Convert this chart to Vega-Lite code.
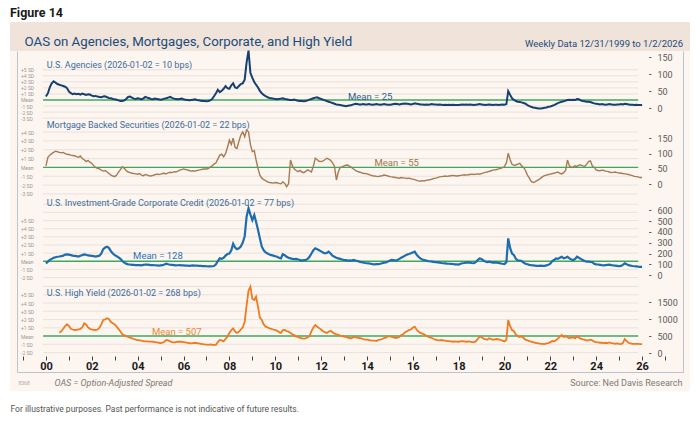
{
  "$schema": "https://vega.github.io/schema/vega-lite/v6.json",
  "background": "#ffffff",
  "padding": {"left": 10, "right": 9, "top": 6, "bottom": 0},
  "title": {"text": "Figure 14", "anchor": "start", "fontSize": 12.5, "fontWeight": "bold", "color": "#1a1a1a", "offset": 3, "frame": "bounds"},
  "config": {
    "font": "Roboto",
    "view": {"stroke": null},
    "text": {"font": "Roboto"},
    "axis": {"labelFont": "Roboto", "titleFont": "Roboto"},
    "title": {"font": "Roboto"}
  },
  "spacing": 0,
  "bounds": "flush",
  "datasets": {
    "panels": [
      {"p": "agy", "title": "U.S. Agencies (2026-01-02 = 10 bps)", "mean": 25, "meanLabel": "Mean = 25"},
      {"p": "mbs", "title": "Mortgage Backed Securities (2026-01-02 = 22 bps)", "mean": 55, "meanLabel": "Mean = 55"},
      {"p": "ig", "title": "U.S. Investment-Grade Corporate Credit (2026-01-02 = 77 bps)", "mean": 128, "meanLabel": "Mean = 128"},
      {"p": "hy", "title": "U.S. High Yield (2026-01-02 = 268 bps)", "mean": 507, "meanLabel": "Mean = 507"}
    ],
    "levels": [
      {"p": "agy", "k": -3, "level": -28.4}, {"p": "agy", "k": -2, "level": -10.6}, {"p": "agy", "k": -1, "level": 7.2},
      {"p": "agy", "k": 1, "level": 42.8}, {"p": "agy", "k": 2, "level": 60.6}, {"p": "agy", "k": 3, "level": 78.4},
      {"p": "agy", "k": 4, "level": 96.2}, {"p": "agy", "k": 5, "level": 114},
      {"p": "mbs", "k": -3, "level": -31.4}, {"p": "mbs", "k": -2, "level": -2.6}, {"p": "mbs", "k": -1, "level": 26.2},
      {"p": "mbs", "k": 1, "level": 83.8}, {"p": "mbs", "k": 2, "level": 112.6}, {"p": "mbs", "k": 3, "level": 141.4},
      {"p": "mbs", "k": 4, "level": 170.2},
      {"p": "ig", "k": -2, "level": -22.8}, {"p": "ig", "k": -1, "level": 52.6}, {"p": "ig", "k": 1, "level": 203.4},
      {"p": "ig", "k": 2, "level": 278.8}, {"p": "ig", "k": 3, "level": 354.2}, {"p": "ig", "k": 4, "level": 429.6},
      {"p": "ig", "k": 5, "level": 505}, {"p": "ig", "k": 6, "level": 580.4}, {"p": "ig", "k": 7, "level": 655.8},
      {"p": "hy", "k": -2, "level": 21}, {"p": "hy", "k": -1, "level": 264}, {"p": "hy", "k": 1, "level": 750},
      {"p": "hy", "k": 2, "level": 993}, {"p": "hy", "k": 3, "level": 1236}, {"p": "hy", "k": 4, "level": 1479},
      {"p": "hy", "k": 5, "level": 1722}, {"p": "hy", "k": 6, "level": 1965}
    ],
    "oas": [
      {"date": "1999-12-31", "agy": 35, "mbs": 60, "ig": 109, "hy": null},
      {"date": "2000-02-01", "agy": 45, "mbs": 88, "ig": 125, "hy": null},
      {"date": "2000-03-01", "agy": 62, "mbs": 95, "ig": 140, "hy": null},
      {"date": "2000-04-01", "agy": 74, "mbs": 100, "ig": 150, "hy": null},
      {"date": "2000-05-01", "agy": 80, "mbs": 104, "ig": 160, "hy": null},
      {"date": "2000-06-01", "agy": 76, "mbs": 108, "ig": 165, "hy": null},
      {"date": "2000-07-01", "agy": 72, "mbs": 106, "ig": 170, "hy": null},
      {"date": "2000-08-01", "agy": 70, "mbs": 104, "ig": 172, "hy": 606},
      {"date": "2000-09-01", "agy": 68, "mbs": 103, "ig": 175, "hy": 650},
      {"date": "2000-10-01", "agy": 66, "mbs": 104, "ig": 180, "hy": 720},
      {"date": "2000-11-01", "agy": 64, "mbs": 100, "ig": 190, "hy": 800},
      {"date": "2000-12-01", "agy": 60, "mbs": 98, "ig": 192, "hy": 852},
      {"date": "2001-01-01", "agy": 50, "mbs": 97, "ig": 190, "hy": 800},
      {"date": "2001-02-01", "agy": 45, "mbs": 95, "ig": 185, "hy": 720},
      {"date": "2001-03-01", "agy": 42, "mbs": 94, "ig": 180, "hy": 700},
      {"date": "2001-04-01", "agy": 44, "mbs": 93, "ig": 178, "hy": 685},
      {"date": "2001-05-01", "agy": 42, "mbs": 90, "ig": 175, "hy": 690},
      {"date": "2001-06-01", "agy": 43, "mbs": 88, "ig": 172, "hy": 700},
      {"date": "2001-07-01", "agy": 41, "mbs": 92, "ig": 180, "hy": 720},
      {"date": "2001-08-01", "agy": 44, "mbs": 84, "ig": 185, "hy": 760},
      {"date": "2001-09-01", "agy": 42, "mbs": 80, "ig": 192, "hy": 882},
      {"date": "2001-10-01", "agy": 40, "mbs": 74, "ig": 188, "hy": 850},
      {"date": "2001-11-01", "agy": 42, "mbs": 78, "ig": 182, "hy": 760},
      {"date": "2001-12-01", "agy": 41, "mbs": 72, "ig": 180, "hy": 720},
      {"date": "2002-01-01", "agy": 38, "mbs": 68, "ig": 178, "hy": 700},
      {"date": "2002-02-01", "agy": 36, "mbs": 60, "ig": 175, "hy": 690},
      {"date": "2002-03-01", "agy": 37, "mbs": 55, "ig": 172, "hy": 685},
      {"date": "2002-04-01", "agy": 35, "mbs": 52, "ig": 176, "hy": 700},
      {"date": "2002-05-01", "agy": 34, "mbs": 50, "ig": 180, "hy": 750},
      {"date": "2002-06-01", "agy": 33, "mbs": 46, "ig": 200, "hy": 850},
      {"date": "2002-07-01", "agy": 35, "mbs": 43, "ig": 240, "hy": 980},
      {"date": "2002-08-01", "agy": 36, "mbs": 45, "ig": 255, "hy": 1000},
      {"date": "2002-09-01", "agy": 33, "mbs": 40, "ig": 263, "hy": 1029},
      {"date": "2002-10-01", "agy": 31, "mbs": 35, "ig": 250, "hy": 1000},
      {"date": "2002-11-01", "agy": 30, "mbs": 30, "ig": 220, "hy": 920},
      {"date": "2002-12-01", "agy": 28, "mbs": 27, "ig": 200, "hy": 882},
      {"date": "2003-01-01", "agy": 27, "mbs": 25, "ig": 185, "hy": 850},
      {"date": "2003-02-01", "agy": 26, "mbs": 30, "ig": 175, "hy": 783},
      {"date": "2003-03-01", "agy": 24, "mbs": 40, "ig": 165, "hy": 720},
      {"date": "2003-04-01", "agy": 22, "mbs": 48, "ig": 150, "hy": 640},
      {"date": "2003-05-01", "agy": 22, "mbs": 57, "ig": 130, "hy": 560},
      {"date": "2003-06-01", "agy": 24, "mbs": 52, "ig": 115, "hy": 538},
      {"date": "2003-07-01", "agy": 28, "mbs": 45, "ig": 106, "hy": 500},
      {"date": "2003-08-01", "agy": 34, "mbs": 40, "ig": 100, "hy": 480},
      {"date": "2003-09-01", "agy": 35, "mbs": 38, "ig": 98, "hy": 460},
      {"date": "2003-10-01", "agy": 32, "mbs": 36, "ig": 95, "hy": 441},
      {"date": "2003-11-01", "agy": 29, "mbs": 35, "ig": 94, "hy": 420},
      {"date": "2003-12-01", "agy": 28, "mbs": 34, "ig": 93, "hy": 400},
      {"date": "2004-01-01", "agy": 30, "mbs": 33, "ig": 93, "hy": 390},
      {"date": "2004-02-01", "agy": 29, "mbs": 35, "ig": 92, "hy": 380},
      {"date": "2004-03-01", "agy": 27, "mbs": 30, "ig": 90, "hy": 370},
      {"date": "2004-04-01", "agy": 30, "mbs": 28, "ig": 95, "hy": 360},
      {"date": "2004-05-01", "agy": 34, "mbs": 32, "ig": 98, "hy": 350},
      {"date": "2004-06-01", "agy": 32, "mbs": 30, "ig": 97, "hy": 350},
      {"date": "2004-07-01", "agy": 30, "mbs": 28, "ig": 95, "hy": 345},
      {"date": "2004-08-01", "agy": 28, "mbs": 27, "ig": 93, "hy": 343},
      {"date": "2004-09-01", "agy": 27, "mbs": 29, "ig": 92, "hy": 340},
      {"date": "2004-10-01", "agy": 29, "mbs": 31, "ig": 91, "hy": 330},
      {"date": "2004-11-01", "agy": 28, "mbs": 33, "ig": 90, "hy": 320},
      {"date": "2004-12-01", "agy": 27, "mbs": 32, "ig": 88, "hy": 310},
      {"date": "2005-01-01", "agy": 26, "mbs": 33, "ig": 90, "hy": 300},
      {"date": "2005-02-01", "agy": 27, "mbs": 35, "ig": 92, "hy": 310},
      {"date": "2005-03-01", "agy": 29, "mbs": 36, "ig": 98, "hy": 340},
      {"date": "2005-04-01", "agy": 30, "mbs": 34, "ig": 105, "hy": 392},
      {"date": "2005-05-01", "agy": 32, "mbs": 37, "ig": 100, "hy": 380},
      {"date": "2005-06-01", "agy": 34, "mbs": 39, "ig": 96, "hy": 350},
      {"date": "2005-07-01", "agy": 31, "mbs": 38, "ig": 94, "hy": 330},
      {"date": "2005-08-01", "agy": 29, "mbs": 41, "ig": 92, "hy": 320},
      {"date": "2005-09-01", "agy": 28, "mbs": 40, "ig": 90, "hy": 330},
      {"date": "2005-10-01", "agy": 27, "mbs": 43, "ig": 91, "hy": 340},
      {"date": "2005-11-01", "agy": 28, "mbs": 46, "ig": 92, "hy": 345},
      {"date": "2005-12-01", "agy": 29, "mbs": 48, "ig": 90, "hy": 340},
      {"date": "2006-01-01", "agy": 27, "mbs": 50, "ig": 90, "hy": 330},
      {"date": "2006-02-01", "agy": 26, "mbs": 48, "ig": 88, "hy": 320},
      {"date": "2006-03-01", "agy": 25, "mbs": 47, "ig": 87, "hy": 310},
      {"date": "2006-04-01", "agy": 24, "mbs": 45, "ig": 86, "hy": 300},
      {"date": "2006-05-01", "agy": 25, "mbs": 43, "ig": 88, "hy": 290},
      {"date": "2006-06-01", "agy": 26, "mbs": 44, "ig": 90, "hy": 300},
      {"date": "2006-07-01", "agy": 27, "mbs": 43, "ig": 88, "hy": 310},
      {"date": "2006-08-01", "agy": 25, "mbs": 45, "ig": 87, "hy": 300},
      {"date": "2006-09-01", "agy": 24, "mbs": 46, "ig": 86, "hy": 290},
      {"date": "2006-10-01", "agy": 23, "mbs": 48, "ig": 85, "hy": 280},
      {"date": "2006-11-01", "agy": 22, "mbs": 49, "ig": 84, "hy": 270},
      {"date": "2006-12-01", "agy": 22, "mbs": 50, "ig": 83, "hy": 260},
      {"date": "2007-01-01", "agy": 21, "mbs": 50, "ig": 82, "hy": 255},
      {"date": "2007-02-01", "agy": 22, "mbs": 52, "ig": 81, "hy": 250},
      {"date": "2007-03-01", "agy": 24, "mbs": 56, "ig": 80, "hy": 260},
      {"date": "2007-04-01", "agy": 28, "mbs": 60, "ig": 82, "hy": 250},
      {"date": "2007-05-01", "agy": 36, "mbs": 66, "ig": 84, "hy": 245},
      {"date": "2007-06-01", "agy": 45, "mbs": 70, "ig": 100, "hy": 250},
      {"date": "2007-07-01", "agy": 55, "mbs": 82, "ig": 130, "hy": 330},
      {"date": "2007-08-01", "agy": 48, "mbs": 95, "ig": 155, "hy": 392},
      {"date": "2007-09-01", "agy": 52, "mbs": 98, "ig": 150, "hy": 380},
      {"date": "2007-10-01", "agy": 58, "mbs": 90, "ig": 160, "hy": 350},
      {"date": "2007-11-01", "agy": 66, "mbs": 100, "ig": 180, "hy": 420},
      {"date": "2007-12-01", "agy": 60, "mbs": 120, "ig": 195, "hy": 490},
      {"date": "2008-01-01", "agy": 58, "mbs": 144, "ig": 200, "hy": 600},
      {"date": "2008-02-01", "agy": 68, "mbs": 130, "ig": 230, "hy": 685},
      {"date": "2008-03-01", "agy": 74, "mbs": 150, "ig": 290, "hy": 735},
      {"date": "2008-04-01", "agy": 62, "mbs": 120, "ig": 255, "hy": 640},
      {"date": "2008-05-01", "agy": 60, "mbs": 117, "ig": 240, "hy": 600},
      {"date": "2008-06-01", "agy": 66, "mbs": 140, "ig": 248, "hy": 635},
      {"date": "2008-07-01", "agy": 72, "mbs": 160, "ig": 265, "hy": 700},
      {"date": "2008-08-01", "agy": 74, "mbs": 171, "ig": 300, "hy": 760},
      {"date": "2008-09-01", "agy": 85, "mbs": 155, "ig": 360, "hy": 930},
      {"date": "2008-10-01", "agy": 135, "mbs": 177, "ig": 540, "hy": 1400},
      {"date": "2008-11-01", "agy": 170, "mbs": 171, "ig": 618, "hy": 1850},
      {"date": "2008-12-01", "agy": 105, "mbs": 130, "ig": 560, "hy": 1960},
      {"date": "2009-01-01", "agy": 90, "mbs": 106, "ig": 510, "hy": 1600},
      {"date": "2009-02-01", "agy": 78, "mbs": 110, "ig": 556, "hy": 1568},
      {"date": "2009-03-01", "agy": 70, "mbs": 80, "ig": 494, "hy": 1666},
      {"date": "2009-04-01", "agy": 62, "mbs": 52, "ig": 420, "hy": 1371},
      {"date": "2009-05-01", "agy": 52, "mbs": 30, "ig": 340, "hy": 1050},
      {"date": "2009-06-01", "agy": 45, "mbs": 20, "ig": 263, "hy": 980},
      {"date": "2009-07-01", "agy": 40, "mbs": 15, "ig": 230, "hy": 850},
      {"date": "2009-08-01", "agy": 36, "mbs": 12, "ig": 210, "hy": 783},
      {"date": "2009-09-01", "agy": 33, "mbs": 8, "ig": 200, "hy": 760},
      {"date": "2009-10-01", "agy": 31, "mbs": 6, "ig": 190, "hy": 735},
      {"date": "2009-11-01", "agy": 30, "mbs": 5, "ig": 185, "hy": 720},
      {"date": "2009-12-01", "agy": 29, "mbs": 4, "ig": 180, "hy": 700},
      {"date": "2010-01-01", "agy": 28, "mbs": 6, "ig": 175, "hy": 685},
      {"date": "2010-02-01", "agy": 27, "mbs": 5, "ig": 170, "hy": 660},
      {"date": "2010-03-01", "agy": 28, "mbs": 3, "ig": 160, "hy": 620},
      {"date": "2010-04-01", "agy": 29, "mbs": 2, "ig": 155, "hy": 600},
      {"date": "2010-05-01", "agy": 30, "mbs": 8, "ig": 193, "hy": 685},
      {"date": "2010-06-01", "agy": 28, "mbs": 3, "ig": 185, "hy": 690},
      {"date": "2010-07-01", "agy": 27, "mbs": -8, "ig": 170, "hy": 650},
      {"date": "2010-08-01", "agy": 26, "mbs": 2, "ig": 160, "hy": 637},
      {"date": "2010-09-01", "agy": 25, "mbs": 79, "ig": 155, "hy": 600},
      {"date": "2010-10-01", "agy": 25, "mbs": 60, "ig": 150, "hy": 560},
      {"date": "2010-11-01", "agy": 26, "mbs": 50, "ig": 148, "hy": 538},
      {"date": "2010-12-01", "agy": 24, "mbs": 45, "ig": 150, "hy": 490},
      {"date": "2011-01-01", "agy": 23, "mbs": 41, "ig": 145, "hy": 480},
      {"date": "2011-02-01", "agy": 22, "mbs": 45, "ig": 140, "hy": 450},
      {"date": "2011-03-01", "agy": 22, "mbs": 40, "ig": 135, "hy": 441},
      {"date": "2011-04-01", "agy": 21, "mbs": 38, "ig": 138, "hy": 430},
      {"date": "2011-05-01", "agy": 22, "mbs": 42, "ig": 140, "hy": 440},
      {"date": "2011-06-01", "agy": 24, "mbs": 47, "ig": 150, "hy": 470},
      {"date": "2011-07-01", "agy": 26, "mbs": 44, "ig": 170, "hy": 500},
      {"date": "2011-08-01", "agy": 28, "mbs": 40, "ig": 200, "hy": 650},
      {"date": "2011-09-01", "agy": 30, "mbs": 60, "ig": 230, "hy": 760},
      {"date": "2011-10-01", "agy": 32, "mbs": 85, "ig": 248, "hy": 832},
      {"date": "2011-11-01", "agy": 33, "mbs": 80, "ig": 240, "hy": 780},
      {"date": "2011-12-01", "agy": 30, "mbs": 75, "ig": 230, "hy": 740},
      {"date": "2012-01-01", "agy": 28, "mbs": 74, "ig": 220, "hy": 700},
      {"date": "2012-02-01", "agy": 26, "mbs": 76, "ig": 210, "hy": 650},
      {"date": "2012-03-01", "agy": 24, "mbs": 80, "ig": 202, "hy": 620},
      {"date": "2012-04-01", "agy": 22, "mbs": 85, "ig": 205, "hy": 600},
      {"date": "2012-05-01", "agy": 20, "mbs": 82, "ig": 217, "hy": 635},
      {"date": "2012-06-01", "agy": 18, "mbs": 78, "ig": 200, "hy": 660},
      {"date": "2012-07-01", "agy": 16, "mbs": 70, "ig": 180, "hy": 620},
      {"date": "2012-08-01", "agy": 14, "mbs": 60, "ig": 170, "hy": 580},
      {"date": "2012-09-01", "agy": 12, "mbs": 14, "ig": 160, "hy": 560},
      {"date": "2012-10-01", "agy": 11, "mbs": 40, "ig": 155, "hy": 540},
      {"date": "2012-11-01", "agy": 10, "mbs": 55, "ig": 150, "hy": 520},
      {"date": "2012-12-01", "agy": 9, "mbs": 57, "ig": 145, "hy": 510},
      {"date": "2013-01-01", "agy": 8, "mbs": 60, "ig": 140, "hy": 490},
      {"date": "2013-02-01", "agy": 7, "mbs": 62, "ig": 138, "hy": 480},
      {"date": "2013-03-01", "agy": 8, "mbs": 63, "ig": 135, "hy": 460},
      {"date": "2013-04-01", "agy": 9, "mbs": 58, "ig": 137, "hy": 450},
      {"date": "2013-05-01", "agy": 10, "mbs": 55, "ig": 135, "hy": 441},
      {"date": "2013-06-01", "agy": 12, "mbs": 50, "ig": 140, "hy": 480},
      {"date": "2013-07-01", "agy": 14, "mbs": 45, "ig": 135, "hy": 470},
      {"date": "2013-08-01", "agy": 13, "mbs": 42, "ig": 130, "hy": 460},
      {"date": "2013-09-01", "agy": 12, "mbs": 40, "ig": 125, "hy": 450},
      {"date": "2013-10-01", "agy": 12, "mbs": 38, "ig": 120, "hy": 441},
      {"date": "2013-11-01", "agy": 13, "mbs": 36, "ig": 117, "hy": 420},
      {"date": "2013-12-01", "agy": 12, "mbs": 35, "ig": 112, "hy": 400},
      {"date": "2014-01-01", "agy": 12, "mbs": 34, "ig": 110, "hy": 400},
      {"date": "2014-02-01", "agy": 13, "mbs": 32, "ig": 108, "hy": 390},
      {"date": "2014-03-01", "agy": 12, "mbs": 30, "ig": 105, "hy": 380},
      {"date": "2014-04-01", "agy": 11, "mbs": 28, "ig": 102, "hy": 375},
      {"date": "2014-05-01", "agy": 12, "mbs": 27, "ig": 100, "hy": 370},
      {"date": "2014-06-01", "agy": 13, "mbs": 26, "ig": 101, "hy": 360},
      {"date": "2014-07-01", "agy": 12, "mbs": 25, "ig": 102, "hy": 392},
      {"date": "2014-08-01", "agy": 11, "mbs": 27, "ig": 105, "hy": 400},
      {"date": "2014-09-01", "agy": 12, "mbs": 28, "ig": 110, "hy": 420},
      {"date": "2014-10-01", "agy": 13, "mbs": 30, "ig": 115, "hy": 450},
      {"date": "2014-11-01", "agy": 12, "mbs": 29, "ig": 118, "hy": 460},
      {"date": "2014-12-01", "agy": 11, "mbs": 27, "ig": 125, "hy": 500},
      {"date": "2015-01-01", "agy": 11, "mbs": 25, "ig": 135, "hy": 500},
      {"date": "2015-02-01", "agy": 12, "mbs": 24, "ig": 140, "hy": 480},
      {"date": "2015-03-01", "agy": 13, "mbs": 23, "ig": 138, "hy": 470},
      {"date": "2015-04-01", "agy": 14, "mbs": 22, "ig": 135, "hy": 450},
      {"date": "2015-05-01", "agy": 13, "mbs": 21, "ig": 140, "hy": 460},
      {"date": "2015-06-01", "agy": 12, "mbs": 20, "ig": 150, "hy": 480},
      {"date": "2015-07-01", "agy": 13, "mbs": 22, "ig": 160, "hy": 539},
      {"date": "2015-08-01", "agy": 14, "mbs": 21, "ig": 170, "hy": 560},
      {"date": "2015-09-01", "agy": 15, "mbs": 20, "ig": 180, "hy": 620},
      {"date": "2015-10-01", "agy": 14, "mbs": 19, "ig": 190, "hy": 650},
      {"date": "2015-11-01", "agy": 13, "mbs": 20, "ig": 195, "hy": 685},
      {"date": "2015-12-01", "agy": 12, "mbs": 18, "ig": 202, "hy": 700},
      {"date": "2016-01-01", "agy": 13, "mbs": 17, "ig": 210, "hy": 750},
      {"date": "2016-02-01", "agy": 15, "mbs": 15, "ig": 217, "hy": 784},
      {"date": "2016-03-01", "agy": 14, "mbs": 13, "ig": 190, "hy": 700},
      {"date": "2016-04-01", "agy": 13, "mbs": 11, "ig": 170, "hy": 640},
      {"date": "2016-05-01", "agy": 12, "mbs": 10, "ig": 155, "hy": 600},
      {"date": "2016-06-01", "agy": 12, "mbs": 12, "ig": 145, "hy": 580},
      {"date": "2016-07-01", "agy": 11, "mbs": 11, "ig": 140, "hy": 560},
      {"date": "2016-08-01", "agy": 12, "mbs": 13, "ig": 135, "hy": 520},
      {"date": "2016-09-01", "agy": 11, "mbs": 14, "ig": 130, "hy": 490},
      {"date": "2016-10-01", "agy": 12, "mbs": 15, "ig": 128, "hy": 470},
      {"date": "2016-11-01", "agy": 13, "mbs": 17, "ig": 125, "hy": 450},
      {"date": "2016-12-01", "agy": 12, "mbs": 19, "ig": 122, "hy": 420},
      {"date": "2017-01-01", "agy": 12, "mbs": 20, "ig": 120, "hy": 400},
      {"date": "2017-02-01", "agy": 11, "mbs": 22, "ig": 118, "hy": 380},
      {"date": "2017-03-01", "agy": 12, "mbs": 24, "ig": 115, "hy": 380},
      {"date": "2017-04-01", "agy": 11, "mbs": 25, "ig": 112, "hy": 390},
      {"date": "2017-05-01", "agy": 10, "mbs": 26, "ig": 110, "hy": 380},
      {"date": "2017-06-01", "agy": 11, "mbs": 27, "ig": 108, "hy": 370},
      {"date": "2017-07-01", "agy": 10, "mbs": 26, "ig": 106, "hy": 360},
      {"date": "2017-08-01", "agy": 11, "mbs": 27, "ig": 105, "hy": 360},
      {"date": "2017-09-01", "agy": 10, "mbs": 28, "ig": 104, "hy": 350},
      {"date": "2017-10-01", "agy": 11, "mbs": 29, "ig": 103, "hy": 340},
      {"date": "2017-11-01", "agy": 10, "mbs": 28, "ig": 100, "hy": 350},
      {"date": "2017-12-01", "agy": 10, "mbs": 27, "ig": 100, "hy": 343},
      {"date": "2018-01-01", "agy": 10, "mbs": 28, "ig": 98, "hy": 340},
      {"date": "2018-02-01", "agy": 11, "mbs": 29, "ig": 105, "hy": 350},
      {"date": "2018-03-01", "agy": 12, "mbs": 30, "ig": 110, "hy": 360},
      {"date": "2018-04-01", "agy": 11, "mbs": 31, "ig": 112, "hy": 350},
      {"date": "2018-05-01", "agy": 12, "mbs": 30, "ig": 115, "hy": 340},
      {"date": "2018-06-01", "agy": 11, "mbs": 31, "ig": 118, "hy": 350},
      {"date": "2018-07-01", "agy": 12, "mbs": 32, "ig": 115, "hy": 340},
      {"date": "2018-08-01", "agy": 11, "mbs": 33, "ig": 112, "hy": 330},
      {"date": "2018-09-01", "agy": 10, "mbs": 32, "ig": 110, "hy": 330},
      {"date": "2018-10-01", "agy": 11, "mbs": 33, "ig": 120, "hy": 350},
      {"date": "2018-11-01", "agy": 12, "mbs": 34, "ig": 140, "hy": 420},
      {"date": "2018-12-01", "agy": 13, "mbs": 33, "ig": 155, "hy": 490},
      {"date": "2019-01-01", "agy": 12, "mbs": 35, "ig": 150, "hy": 480},
      {"date": "2019-02-01", "agy": 11, "mbs": 37, "ig": 135, "hy": 430},
      {"date": "2019-03-01", "agy": 10, "mbs": 39, "ig": 125, "hy": 420},
      {"date": "2019-04-01", "agy": 11, "mbs": 40, "ig": 120, "hy": 400},
      {"date": "2019-05-01", "agy": 12, "mbs": 42, "ig": 125, "hy": 440},
      {"date": "2019-06-01", "agy": 11, "mbs": 44, "ig": 120, "hy": 420},
      {"date": "2019-07-01", "agy": 10, "mbs": 46, "ig": 115, "hy": 400},
      {"date": "2019-08-01", "agy": 11, "mbs": 47, "ig": 118, "hy": 410},
      {"date": "2019-09-01", "agy": 11, "mbs": 48, "ig": 115, "hy": 420},
      {"date": "2019-10-01", "agy": 10, "mbs": 50, "ig": 112, "hy": 410},
      {"date": "2019-11-01", "agy": 11, "mbs": 52, "ig": 108, "hy": 392},
      {"date": "2019-12-01", "agy": 12, "mbs": 54, "ig": 105, "hy": 370},
      {"date": "2020-01-01", "agy": 11, "mbs": 58, "ig": 103, "hy": 350},
      {"date": "2020-02-01", "agy": 13, "mbs": 70, "ig": 120, "hy": 400},
      {"date": "2020-03-01", "agy": 51, "mbs": 101, "ig": 340, "hy": 980},
      {"date": "2020-04-01", "agy": 40, "mbs": 80, "ig": 250, "hy": 800},
      {"date": "2020-05-01", "agy": 30, "mbs": 65, "ig": 200, "hy": 685},
      {"date": "2020-06-01", "agy": 25, "mbs": 62, "ig": 185, "hy": 650},
      {"date": "2020-07-01", "agy": 22, "mbs": 63, "ig": 150, "hy": 550},
      {"date": "2020-08-01", "agy": 20, "mbs": 66, "ig": 135, "hy": 500},
      {"date": "2020-09-01", "agy": 19, "mbs": 68, "ig": 135, "hy": 480},
      {"date": "2020-10-01", "agy": 18, "mbs": 60, "ig": 130, "hy": 500},
      {"date": "2020-11-01", "agy": 16, "mbs": 55, "ig": 115, "hy": 450},
      {"date": "2020-12-01", "agy": 14, "mbs": 45, "ig": 105, "hy": 400},
      {"date": "2021-01-01", "agy": 10, "mbs": 30, "ig": 100, "hy": 380},
      {"date": "2021-02-01", "agy": 7, "mbs": 20, "ig": 95, "hy": 360},
      {"date": "2021-03-01", "agy": 5, "mbs": 10, "ig": 92, "hy": 343},
      {"date": "2021-04-01", "agy": 3, "mbs": 6, "ig": 90, "hy": 330},
      {"date": "2021-05-01", "agy": 2, "mbs": 8, "ig": 88, "hy": 310},
      {"date": "2021-06-01", "agy": 1, "mbs": 12, "ig": 86, "hy": 300},
      {"date": "2021-07-01", "agy": 0, "mbs": 15, "ig": 85, "hy": 290},
      {"date": "2021-08-01", "agy": 0, "mbs": 20, "ig": 87, "hy": 280},
      {"date": "2021-09-01", "agy": 1, "mbs": 25, "ig": 86, "hy": 280},
      {"date": "2021-10-01", "agy": 2, "mbs": 28, "ig": 85, "hy": 270},
      {"date": "2021-11-01", "agy": 3, "mbs": 30, "ig": 90, "hy": 290},
      {"date": "2021-12-01", "agy": 5, "mbs": 32, "ig": 95, "hy": 300},
      {"date": "2022-01-01", "agy": 6, "mbs": 33, "ig": 105, "hy": 330},
      {"date": "2022-02-01", "agy": 8, "mbs": 35, "ig": 130, "hy": 360},
      {"date": "2022-03-01", "agy": 10, "mbs": 36, "ig": 140, "hy": 350},
      {"date": "2022-04-01", "agy": 13, "mbs": 38, "ig": 155, "hy": 380},
      {"date": "2022-05-01", "agy": 16, "mbs": 40, "ig": 150, "hy": 430},
      {"date": "2022-06-01", "agy": 18, "mbs": 36, "ig": 160, "hy": 490},
      {"date": "2022-07-01", "agy": 20, "mbs": 34, "ig": 170, "hy": 539},
      {"date": "2022-08-01", "agy": 21, "mbs": 38, "ig": 155, "hy": 480},
      {"date": "2022-09-01", "agy": 23, "mbs": 45, "ig": 160, "hy": 500},
      {"date": "2022-10-01", "agy": 25, "mbs": 79, "ig": 170, "hy": 470},
      {"date": "2022-11-01", "agy": 26, "mbs": 60, "ig": 155, "hy": 441},
      {"date": "2022-12-01", "agy": 25, "mbs": 55, "ig": 145, "hy": 460},
      {"date": "2023-01-01", "agy": 26, "mbs": 57, "ig": 140, "hy": 470},
      {"date": "2023-02-01", "agy": 25, "mbs": 60, "ig": 150, "hy": 441},
      {"date": "2023-03-01", "agy": 28, "mbs": 58, "ig": 170, "hy": 500},
      {"date": "2023-04-01", "agy": 27, "mbs": 62, "ig": 160, "hy": 460},
      {"date": "2023-05-01", "agy": 24, "mbs": 63, "ig": 150, "hy": 430},
      {"date": "2023-06-01", "agy": 22, "mbs": 60, "ig": 140, "hy": 410},
      {"date": "2023-07-01", "agy": 21, "mbs": 58, "ig": 130, "hy": 400},
      {"date": "2023-08-01", "agy": 20, "mbs": 65, "ig": 124, "hy": 380},
      {"date": "2023-09-01", "agy": 20, "mbs": 74, "ig": 125, "hy": 380},
      {"date": "2023-10-01", "agy": 19, "mbs": 76, "ig": 122, "hy": 400},
      {"date": "2023-11-01", "agy": 17, "mbs": 60, "ig": 120, "hy": 380},
      {"date": "2023-12-01", "agy": 15, "mbs": 55, "ig": 105, "hy": 343},
      {"date": "2024-01-01", "agy": 14, "mbs": 47, "ig": 100, "hy": 330},
      {"date": "2024-02-01", "agy": 13, "mbs": 45, "ig": 98, "hy": 320},
      {"date": "2024-03-01", "agy": 12, "mbs": 44, "ig": 95, "hy": 310},
      {"date": "2024-04-01", "agy": 13, "mbs": 46, "ig": 92, "hy": 310},
      {"date": "2024-05-01", "agy": 12, "mbs": 45, "ig": 90, "hy": 300},
      {"date": "2024-06-01", "agy": 11, "mbs": 43, "ig": 93, "hy": 310},
      {"date": "2024-07-01", "agy": 12, "mbs": 42, "ig": 95, "hy": 300},
      {"date": "2024-08-01", "agy": 13, "mbs": 40, "ig": 97, "hy": 320},
      {"date": "2024-09-01", "agy": 12, "mbs": 38, "ig": 93, "hy": 300},
      {"date": "2024-10-01", "agy": 11, "mbs": 39, "ig": 90, "hy": 290},
      {"date": "2024-11-01", "agy": 11, "mbs": 40, "ig": 88, "hy": 280},
      {"date": "2024-12-01", "agy": 12, "mbs": 38, "ig": 85, "hy": 294},
      {"date": "2025-01-01", "agy": 12, "mbs": 37, "ig": 82, "hy": 280},
      {"date": "2025-02-01", "agy": 13, "mbs": 36, "ig": 85, "hy": 270},
      {"date": "2025-03-01", "agy": 12, "mbs": 35, "ig": 95, "hy": 300},
      {"date": "2025-04-01", "agy": 14, "mbs": 34, "ig": 109, "hy": 420},
      {"date": "2025-05-01", "agy": 13, "mbs": 33, "ig": 100, "hy": 360},
      {"date": "2025-06-01", "agy": 12, "mbs": 32, "ig": 92, "hy": 310},
      {"date": "2025-07-01", "agy": 11, "mbs": 30, "ig": 88, "hy": 290},
      {"date": "2025-08-01", "agy": 11, "mbs": 28, "ig": 84, "hy": 280},
      {"date": "2025-09-01", "agy": 10, "mbs": 26, "ig": 82, "hy": 275},
      {"date": "2025-10-01", "agy": 11, "mbs": 25, "ig": 80, "hy": 280},
      {"date": "2025-11-01", "agy": 10, "mbs": 24, "ig": 78, "hy": 275},
      {"date": "2025-12-01", "agy": 10, "mbs": 22, "ig": 77, "hy": 270},
      {"date": "2026-01-02", "agy": 10, "mbs": 22, "ig": 77, "hy": 268}
    ]
  },
  "vconcat": [
    {
      "width": 680,
      "height": 29,
      "view": {"fill": "#efe3da", "stroke": null},
      "title": {"text": "OAS on Agencies, Mortgages, Corporate, and High Yield", "orient": "bottom", "anchor": "start", "frame": "group", "offset": -5, "baseline": "alphabetic", "dx": 14.5, "fontSize": 13.3, "fontWeight": "normal", "color": "#1b4b7a"},
      "data": {"values": [{}]},
      "mark": {"type": "point", "opacity": 0}
    },
    {
      "width": 680,
      "height": 340,
      "view": {"fill": "#fcf5f0", "stroke": null},
      "title": {"text": "Weekly Data 12/31/1999 to 1/2/2026", "orient": "top", "anchor": "end", "frame": "group", "offset": -10, "baseline": "alphabetic", "dx": -7, "fontSize": 9.5, "fontWeight": "normal", "color": "#1b4b7a"},
      "resolve": {"scale": {"y": "independent"}, "axis": {"x": "independent", "y": "independent"}},
      "layer": [
        {
          "resolve": {"axis": {"x": "independent", "y": "independent"}},
          "layer": [
            {
              "data": {"name": "levels"},
              "transform": [{"filter": "datum.p == 'agy'"}],
              "mark": {"type": "rule", "color": "#e6ddd6", "strokeWidth": 0.8},
              "encoding": {
                "x": {"datum": {"year": 1999, "month": 11, "date": 15}, "type": "temporal", "scale": {"domain": [{"year": 1998, "month": 9, "date": 26}, {"year": 2027, "month": 10, "date": 16}], "range": [7, 673]}, "axis": null},
                "x2": {"datum": {"year": 2025, "month": 11, "date": 1}},
                "y": {"field": "level", "type": "quantitative", "scale": {"domain": [-775, 169.1], "range": [321, 0], "nice": false, "zero": false},
                  "axis": {"orient": "left", "offset": -7, "values": [-28.4, -10.6, 7.2, 25, 42.8, 60.6, 78.4, 96.2, 114], "labelExpr": "datum.value == 25 ? 'Mean' : (datum.value > 25 ? '+' : '-') + round(abs(datum.value - 25) / 17.8) + ' SD'", "domain": true, "domainColor": "#b9c4ce", "domainWidth": 1, "ticks": false, "tickSize": 0, "grid": false, "labelAlign": "left", "labelBaseline": "middle", "labelPadding": -3.5, "labelFontSize": 5, "labelColor": "#9a9a9a", "labelOverlap": false, "labelFlush": false, "title": null}}
              }
            },
            {
              "data": {"name": "panels"},
              "transform": [{"filter": "datum.p == 'agy'"}],
              "mark": {"type": "rule", "color": "#3ea85f", "strokeWidth": 1.4},
              "encoding": {
                "x": {"datum": {"year": 1999, "month": 11, "date": 15}, "type": "temporal", "axis": null},
                "x2": {"datum": {"year": 2025, "month": 11, "date": 1}},
                "y": {"field": "mean", "type": "quantitative", "axis": {"orient": "right", "offset": -7, "domain": true, "domainColor": "#b9c4ce", "domainWidth": 1, "ticks": false, "labels": false, "grid": false, "title": null}}
              }
            },
            {
              "data": {"name": "oas"},
              "mark": {"type": "line", "color": "#173f70", "strokeWidth": 2},
              "encoding": {
                "x": {"field": "date", "type": "temporal",
                  "axis": {"orient": "bottom", "offset": -35, "domain": false, "tickCount": {"interval": "year", "step": 1}, "tickSize": 4, "tickColor": "#444444", "tickWidth": 1, "labelExpr": "year(datum.value) % 2 == 0 ? timeFormat(datum.value, '%y') : ''", "labelFontSize": 11, "labelFontWeight": "bold", "labelColor": "#1a1a1a", "labelPadding": 0, "labelFlush": false, "labelOverlap": false, "grid": false,
                    "title": "For illustrative purposes. Past performance is not indicative of future results.", "titleAnchor": "start", "titleAlign": "left", "titleX": 0, "titleY": 55, "titleBaseline": "alphabetic", "titleFontSize": 8.5, "titleFontWeight": "normal", "titleColor": "#555555"}},
                "y": {"field": "agy", "type": "quantitative",
                  "axis": {"orient": "right", "offset": -41.5, "values": [0, 50, 100, 150], "format": "d", "domain": false, "ticks": true, "tickSize": 2.5, "tickColor": "#666666", "tickWidth": 1, "labelPadding": 6, "labelFontSize": 9, "labelColor": "#5a5a5a", "labelAlign": "left", "labelBaseline": "middle", "labelOverlap": false, "labelFlush": false, "grid": false, "title": null}}
              }
            },
            {
              "data": {"name": "panels"},
              "transform": [{"filter": "datum.p == 'agy'"}],
              "mark": {"type": "text", "align": "left", "baseline": "middle", "fontSize": 9, "color": "#3d6c9a"},
              "encoding": {
                "x": {"datum": {"year": 2000, "month": 1, "date": 12}, "type": "temporal", "axis": null},
                "y": {"datum": 128, "type": "quantitative", "axis": null},
                "text": {"field": "title", "type": "nominal"}
              }
            },
            {
              "data": {"name": "panels"},
              "transform": [{"filter": "datum.p == 'agy'"}],
              "mark": {"type": "text", "align": "left", "baseline": "middle", "fontSize": 9.5, "color": "#2d5f93"},
              "encoding": {
                "x": {"datum": {"year": 2013, "month": 3, "date": 5}, "type": "temporal", "axis": null},
                "y": {"datum": 34.7, "type": "quantitative", "axis": null},
                "text": {"field": "meanLabel", "type": "nominal"}
              }
            }
          ]
        },
        {
          "resolve": {"axis": {"x": "independent", "y": "independent"}},
          "layer": [
            {
              "data": {"name": "levels"},
              "transform": [{"filter": "datum.p == 'mbs'"}],
              "mark": {"type": "rule", "color": "#e6ddd6", "strokeWidth": 0.8},
              "encoding": {
                "x": {"datum": {"year": 1999, "month": 11, "date": 15}, "type": "temporal", "axis": null},
                "x2": {"datum": {"year": 2025, "month": 11, "date": 1}},
                "y": {"field": "level", "type": "quantitative", "scale": {"domain": [-611.4, 434.2], "range": [321, 0], "nice": false, "zero": false},
                  "axis": {"orient": "left", "offset": -7, "values": [-31.4, -2.6, 26.2, 55, 83.8, 112.6, 141.4, 170.2], "labelExpr": "datum.value == 55 ? 'Mean' : (datum.value > 55 ? '+' : '-') + round(abs(datum.value - 55) / 28.8) + ' SD'", "domain": false, "ticks": false, "tickSize": 0, "grid": false, "labelAlign": "left", "labelBaseline": "middle", "labelPadding": -3.5, "labelFontSize": 5, "labelColor": "#9a9a9a", "labelOverlap": false, "labelFlush": false, "title": null}}
              }
            },
            {
              "data": {"name": "panels"},
              "transform": [{"filter": "datum.p == 'mbs'"}],
              "mark": {"type": "rule", "color": "#3ea85f", "strokeWidth": 1.4},
              "encoding": {
                "x": {"datum": {"year": 1999, "month": 11, "date": 15}, "type": "temporal", "axis": null},
                "x2": {"datum": {"year": 2025, "month": 11, "date": 1}},
                "y": {"field": "mean", "type": "quantitative", "axis": null}
              }
            },
            {
              "data": {"name": "oas"},
              "mark": {"type": "line", "color": "#a67b52", "strokeWidth": 1.4},
              "encoding": {
                "x": {"field": "date", "type": "temporal",
                  "axis": {"orient": "bottom", "offset": -19, "domain": true, "domainColor": "#b9c4ce", "domainWidth": 1, "ticks": false, "labels": false, "grid": false,
                    "title": "OAS = Option-Adjusted Spread", "titleAnchor": "start", "titleAlign": "left", "titleX": 44, "titleY": 13, "titleBaseline": "alphabetic", "titleFontSize": 9, "titleFontStyle": "italic", "titleFontWeight": "normal", "titleColor": "#7a7a7a"}},
                "y": {"field": "mbs", "type": "quantitative",
                  "axis": {"orient": "right", "offset": -41.5, "values": [0, 50, 100, 150], "format": "d", "domain": false, "ticks": true, "tickSize": 2.5, "tickColor": "#666666", "tickWidth": 1, "labelPadding": 6, "labelFontSize": 9, "labelColor": "#5a5a5a", "labelAlign": "left", "labelBaseline": "middle", "labelOverlap": false, "labelFlush": false, "grid": false, "title": null}}
              }
            },
            {
              "data": {"name": "panels"},
              "transform": [{"filter": "datum.p == 'mbs'"}],
              "mark": {"type": "text", "align": "left", "baseline": "middle", "fontSize": 9, "color": "#3d6c9a"},
              "encoding": {
                "x": {"datum": {"year": 2000, "month": 1, "date": 12}, "type": "temporal", "axis": null},
                "y": {"datum": 193.2, "type": "quantitative", "axis": null},
                "text": {"field": "title", "type": "nominal"}
              }
            },
            {
              "data": {"name": "panels"},
              "transform": [{"filter": "datum.p == 'mbs'"}],
              "mark": {"type": "text", "align": "left", "baseline": "middle", "fontSize": 9.5, "color": "#a4734a"},
              "encoding": {
                "x": {"datum": {"year": 2014, "month": 5, "date": 1}, "type": "temporal", "axis": null},
                "y": {"datum": 68.4, "type": "quantitative", "axis": null},
                "text": {"field": "meanLabel", "type": "nominal"}
              }
            }
          ]
        },
        {
          "resolve": {"axis": {"x": "independent", "y": "independent"}},
          "layer": [
            {
              "data": {"name": "levels"},
              "transform": [{"filter": "datum.p == 'ig'"}],
              "mark": {"type": "rule", "color": "#e6ddd6", "strokeWidth": 0.8},
              "encoding": {
                "x": {"datum": {"year": 1999, "month": 11, "date": 15}, "type": "temporal", "axis": null},
                "x2": {"datum": {"year": 2025, "month": 11, "date": 1}},
                "y": {"field": "level", "type": "quantitative", "scale": {"domain": [-897.2, 2075], "range": [321, 0], "nice": false, "zero": false},
                  "axis": {"orient": "left", "offset": -7, "values": [-22.8, 52.6, 128, 203.4, 278.8, 354.2, 429.6, 505], "labelExpr": "datum.value == 128 ? 'Mean' : (datum.value > 128 ? '+' : '-') + round(abs(datum.value - 128) / 75.4) + ' SD'", "domain": false, "ticks": false, "tickSize": 0, "grid": false, "labelAlign": "left", "labelBaseline": "middle", "labelPadding": -3.5, "labelFontSize": 5, "labelColor": "#9a9a9a", "labelOverlap": false, "labelFlush": false, "title": null}}
              }
            },
            {
              "data": {"name": "panels"},
              "transform": [{"filter": "datum.p == 'ig'"}],
              "mark": {"type": "rule", "color": "#3ea85f", "strokeWidth": 1.4},
              "encoding": {
                "x": {"datum": {"year": 1999, "month": 11, "date": 15}, "type": "temporal", "axis": null},
                "x2": {"datum": {"year": 2025, "month": 11, "date": 1}},
                "y": {"field": "mean", "type": "quantitative", "axis": null}
              }
            },
            {
              "data": {"name": "oas"},
              "mark": {"type": "line", "color": "#1b6db0", "strokeWidth": 2.2},
              "encoding": {
                "x": {"field": "date", "type": "temporal",
                  "axis": {"orient": "bottom", "offset": -19, "domain": false, "ticks": false, "labels": false, "grid": false,
                    "title": "Source: Ned Davis Research", "titleAnchor": "end", "titleAlign": "right", "titleX": 672, "titleY": 13, "titleBaseline": "alphabetic", "titleFontSize": 9, "titleFontWeight": "normal", "titleColor": "#7a7a7a"}},
                "y": {"field": "ig", "type": "quantitative",
                  "axis": {"orient": "right", "offset": -41.5, "values": [0, 100, 200, 300, 400, 500, 600], "format": "d", "domain": false, "ticks": true, "tickSize": 2.5, "tickColor": "#666666", "tickWidth": 1, "labelPadding": 6, "labelFontSize": 9, "labelColor": "#5a5a5a", "labelAlign": "left", "labelBaseline": "middle", "labelOverlap": false, "labelFlush": false, "grid": false, "title": null}}
              }
            },
            {
              "data": {"name": "panels"},
              "transform": [{"filter": "datum.p == 'ig'"}],
              "mark": {"type": "text", "align": "left", "baseline": "middle", "fontSize": 9, "color": "#3d6c9a"},
              "encoding": {
                "x": {"datum": {"year": 2000, "month": 1, "date": 12}, "type": "temporal", "axis": null},
                "y": {"datum": 664.8, "type": "quantitative", "axis": null},
                "text": {"field": "title", "type": "nominal"}
              }
            },
            {
              "data": {"name": "panels"},
              "transform": [{"filter": "datum.p == 'ig'"}],
              "mark": {"type": "text", "align": "left", "baseline": "middle", "fontSize": 9.5, "color": "#2a73b3"},
              "encoding": {
                "x": {"datum": {"year": 2003, "month": 10, "date": 20}, "type": "temporal", "axis": null},
                "y": {"datum": 176.9, "type": "quantitative", "axis": null},
                "text": {"field": "meanLabel", "type": "nominal"}
              }
            }
          ]
        },
        {
          "resolve": {"axis": {"x": "independent", "y": "independent"}},
          "layer": [
            {
              "data": {"name": "levels"},
              "transform": [{"filter": "datum.p == 'hy'"}],
              "mark": {"type": "rule", "color": "#e6ddd6", "strokeWidth": 0.8},
              "encoding": {
                "x": {"datum": {"year": 1999, "month": 11, "date": 15}, "type": "temporal", "axis": null},
                "x2": {"datum": {"year": 2025, "month": 11, "date": 1}},
                "y": {"field": "level", "type": "quantitative", "scale": {"domain": [-550, 8891], "range": [321, 0], "nice": false, "zero": false},
                  "axis": {"orient": "left", "offset": -7, "values": [21, 264, 507, 750, 993, 1236, 1479, 1722], "labelExpr": "datum.value == 507 ? 'Mean' : (datum.value > 507 ? '+' : '-') + round(abs(datum.value - 507) / 243) + ' SD'", "domain": false, "ticks": false, "tickSize": 0, "grid": false, "labelAlign": "left", "labelBaseline": "middle", "labelPadding": -3.5, "labelFontSize": 5, "labelColor": "#9a9a9a", "labelOverlap": false, "labelFlush": false, "title": null}}
              }
            },
            {
              "data": {"name": "panels"},
              "transform": [{"filter": "datum.p == 'hy'"}],
              "mark": {"type": "rule", "color": "#3ea85f", "strokeWidth": 1.4},
              "encoding": {
                "x": {"datum": {"year": 1999, "month": 11, "date": 15}, "type": "temporal", "axis": null},
                "x2": {"datum": {"year": 2025, "month": 11, "date": 1}},
                "y": {"field": "mean", "type": "quantitative", "axis": null}
              }
            },
            {
              "data": {"name": "oas"},
              "mark": {"type": "line", "color": "#f07a1f", "strokeWidth": 1.8},
              "encoding": {
                "x": {"field": "date", "type": "temporal",
                  "axis": {"orient": "bottom", "offset": -19, "domain": false, "ticks": false, "labels": false, "grid": false,
                    "title": "8368", "titleAnchor": "start", "titleAlign": "left", "titleX": 8, "titleY": 12, "titleBaseline": "alphabetic", "titleFontSize": 5, "titleFontWeight": "normal", "titleColor": "#aaaaaa"}},
                "y": {"field": "hy", "type": "quantitative",
                  "axis": {"orient": "right", "offset": -41.5, "values": [0, 500, 1000, 1500], "format": "d", "domain": false, "ticks": true, "tickSize": 2.5, "tickColor": "#666666", "tickWidth": 1, "labelPadding": 6, "labelFontSize": 9, "labelColor": "#5a5a5a", "labelAlign": "left", "labelBaseline": "middle", "labelOverlap": false, "labelFlush": false, "grid": false, "title": null}}
              }
            },
            {
              "data": {"name": "panels"},
              "transform": [{"filter": "datum.p == 'hy'"}],
              "mark": {"type": "text", "align": "left", "baseline": "middle", "fontSize": 9, "color": "#3d6c9a"},
              "encoding": {
                "x": {"datum": {"year": 2000, "month": 1, "date": 12}, "type": "temporal", "axis": null},
                "y": {"datum": 1782, "type": "quantitative", "axis": null},
                "text": {"field": "title", "type": "nominal"}
              }
            },
            {
              "data": {"name": "panels"},
              "transform": [{"filter": "datum.p == 'hy'"}],
              "mark": {"type": "text", "align": "left", "baseline": "middle", "fontSize": 9.5, "color": "#f0852f"},
              "encoding": {
                "x": {"datum": {"year": 2004, "month": 8, "date": 15}, "type": "temporal", "axis": null},
                "y": {"datum": 635, "type": "quantitative", "axis": null},
                "text": {"field": "meanLabel", "type": "nominal"}
              }
            }
          ]
        }
      ]
    }
  ]
}
